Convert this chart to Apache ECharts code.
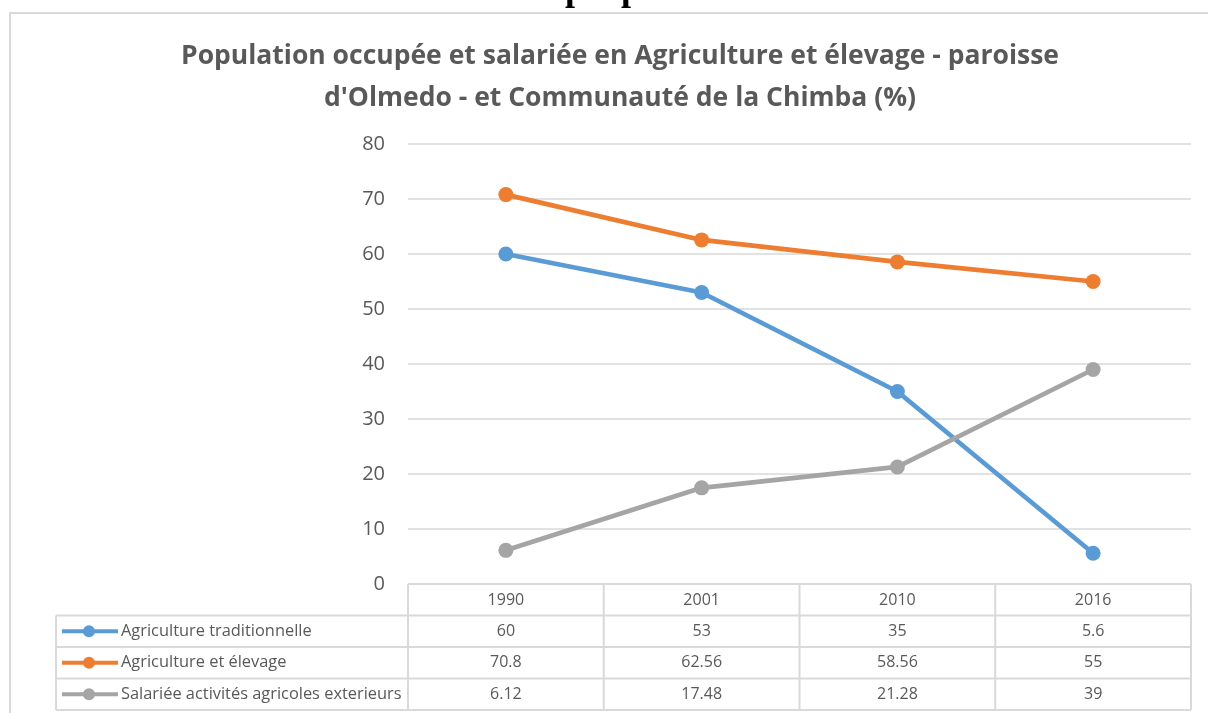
<!DOCTYPE html>
<html>
<head>
<meta charset="utf-8">
<script src="https://cdn.jsdelivr.net/npm/echarts@6/dist/echarts.min.js"></script>
<style>
    html, body { margin: 0; padding: 0; background: #fff; }
    #main { width: 1208px; height: 713px; }
</style>
</head>
<body>
<div id="main"></div>
<script>
var years = ['1990', '2001', '2010', '2016']
var seriesNames = ['Agriculture traditionnelle', 'Agriculture et élevage', 'Salariée activités agricoles exterieurs']
var agriTrad = [60, 53, 35, 5.6]
var agriElevage = [70.8, 62.56, 58.56, 55]
var salariee = [6.12, 17.48, 21.28, 39]
var colors = ['#5B9BD5', '#ED7D31', '#A5A5A5']

var textColor = '#595959'
var lineGray = '#d9d9d9'
var font = 'Open Sans'

var chart = echarts.init(document.getElementById('main'))

function lineSeries(name, data, color) {
    return {
        name: name,
        type: 'line',
        data: data,
        symbol: 'circle',
        symbolSize: 15,
        lineStyle: { width: 4.7, color: color },
        itemStyle: { color: color },
        emphasis: { disabled: true }
    }
}

chart.setOption({
    animation: false,
    textStyle: { fontFamily: font },
    title: {
        text: 'Population occupée et salariée en Agriculture et élevage - paroisse\nd\'Olmedo - et Communauté de la Chimba (%)',
        left: 615,
        top: 30,
        textAlign: 'center',
        textStyle: {
            fontFamily: font,
            fontSize: 26.5,
            fontWeight: 'bold',
            color: textColor,
            lineHeight: 42
        }
    },
    grid: { left: 408, right: 17, top: 144, bottom: 129 },
    xAxis: {
        type: 'category',
        data: years,
        boundaryGap: true,
        axisLine: { lineStyle: { color: lineGray } },
        axisTick: { show: false },
        axisLabel: { fontSize: 16, color: textColor, margin: 8, fontFamily: font }
    },
    yAxis: {
        type: 'value',
        min: 0,
        max: 80,
        interval: 10,
        axisLine: { show: false },
        axisTick: { show: false },
        axisLabel: { fontSize: 20, color: textColor, margin: 23, fontFamily: font },
        splitLine: { lineStyle: { color: lineGray, width: 1.5 } }
    },
    series: [
        lineSeries(seriesNames[0], agriTrad, colors[0]),
        lineSeries(seriesNames[1], agriElevage, colors[1]),
        lineSeries(seriesNames[2], salariee, colors[2])
    ]
})

// data table below the plot, aligned with the category axis
var allData = [agriTrad, agriElevage, salariee]
var c0 = chart.convertToPixel({ gridIndex: 0 }, [0, 0])
var c1 = chart.convertToPixel({ gridIndex: 0 }, [1, 0])
var bandW = c1[0] - c0[0]
var bandLeft = c0[0] - bandW / 2
var axisY = c0[1]
var rowH = 31.5
var tableLeft = 56
var tableRight = bandLeft + bandW * years.length
var elements = []

// frame of the chart area
elements.push({
    type: 'rect',
    shape: { x: 10, y: 13, width: 1220, height: 730 },
    style: { fill: null, stroke: lineGray, lineWidth: 2 },
    silent: true
})
// cut-off heading of the page above
elements.push({
    type: 'text',
    x: 603,
    y: -27,
    style: { text: 'p o p', font: 'bold 36px "Liberation Serif"', fill: '#000', align: 'center' }
})

for (var r = 0; r <= 4; r++) {
    var y = axisY + r * rowH
    elements.push({
        type: 'line',
        shape: { x1: r === 0 ? bandLeft : tableLeft, y1: y, x2: tableRight, y2: y },
        style: { stroke: lineGray, lineWidth: 2 }
    })
}
for (var c = 0; c <= years.length; c++) {
    var x = bandLeft + c * bandW
    elements.push({
        type: 'line',
        shape: { x1: x, y1: axisY, x2: x, y2: axisY + 4 * rowH },
        style: { stroke: lineGray, lineWidth: 2 }
    })
}
elements.push({
    type: 'line',
    shape: { x1: tableLeft, y1: axisY + rowH, x2: tableLeft, y2: axisY + 4 * rowH },
    style: { stroke: lineGray, lineWidth: 2 }
})

allData.forEach(function (vals, i) {
    var cy = axisY + (i + 1.5) * rowH
    elements.push({
        type: 'line',
        shape: { x1: 62, y1: cy, x2: 118, y2: cy },
        style: { stroke: colors[i], lineWidth: 4 }
    })
    elements.push({
        type: 'circle',
        shape: { cx: 89, cy: cy, r: 6 },
        style: { fill: colors[i] }
    })
    elements.push({
        type: 'text',
        x: 121,
        y: cy,
        style: { text: seriesNames[i], fontFamily: font, fontSize: 16.4, fill: textColor, verticalAlign: 'middle' }
    })
    vals.forEach(function (v, j) {
        var cx = chart.convertToPixel({ gridIndex: 0 }, [j, 0])[0]
        elements.push({
            type: 'text',
            x: cx,
            y: cy,
            style: { text: String(v), fontFamily: font, fontSize: 16, fill: textColor, align: 'center', verticalAlign: 'middle' }
        })
    })
})

chart.setOption({ graphic: { elements: elements } })
</script>
</body>
</html>
